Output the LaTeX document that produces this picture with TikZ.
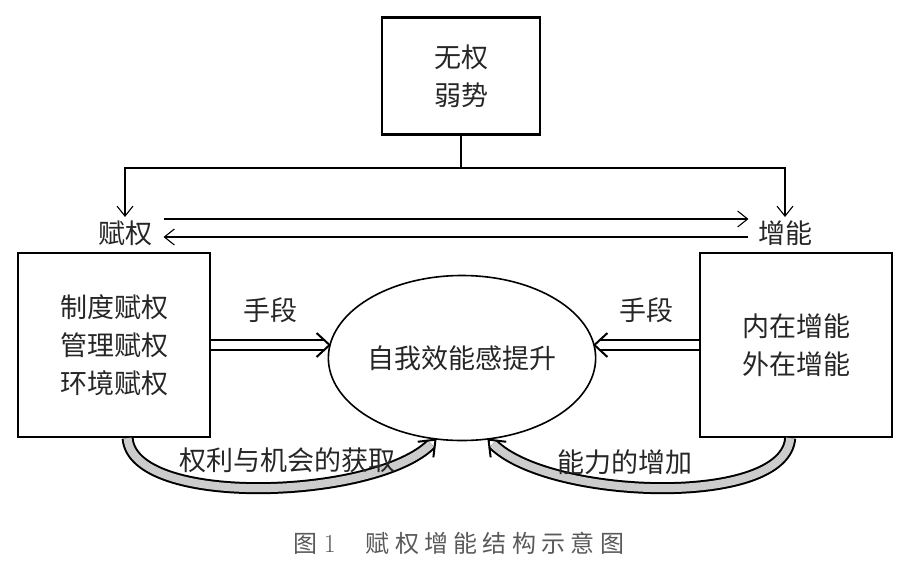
\documentclass[tikz,border=0pt]{standalone}
\usepackage{fontspec}
\usepackage{xcolor}
\newfontfamily\cjk{Noto Sans CJK SC}
\newfontfamily\cjkcap[LetterSpace=22]{Noto Sans CJK SC}
\usetikzlibrary{shapes,arrows,positioning,calc,arrows.meta}

\tikzset{
  box/.style={draw, line width=2.2pt, align=center, inner sep=0pt},
  txt/.style={font=\cjk\fontsize{27}{38}\selectfont, text=black!85, align=center},
  thinarrow/.style={line width=1.1pt, -{Straight Barb[length=10pt,width=16pt]}},
  hollow/.style={double, double distance=8.5pt, line width=2pt, shorten >=6pt},
  bent/.style={double, double distance=8pt, line width=2pt, double=gray!40, shorten >=6pt},
  barb/.style={line width=2pt, line join=miter},
}

\begin{document}
\begin{tikzpicture}[x=1pt,y=-1pt]
    \useasboundingbox (0,0) rectangle (912,571);

    % Top Box
    \node[box, txt, minimum width=158pt, minimum height=117pt] (wq) at (461,76) {无权\\弱势};

    % Branches
    \node[txt] (fq) at (125,233) {赋权};
    \node[txt] (zn) at (785,233) {增能};
    \coordinate (split) at (461,168);
    \draw[line width=1.1pt] (wq.south) -- (split);
    \draw[thinarrow] (split) -| (fq.north);
    \draw[thinarrow] (split) -| (zn.north);
    \draw[thinarrow] ([xshift=8pt,yshift=14pt]fq.east) -- ([xshift=-6pt,yshift=14pt]zn.west);
    \draw[thinarrow] ([xshift=-6pt,yshift=-4pt]zn.west) -- ([xshift=8pt,yshift=-4pt]fq.east);

    % Ellipse and Boxes
    \node[draw, ellipse, line width=1.6pt, minimum width=266pt, minimum height=165pt, inner sep=0pt, txt] (ell) at (462,358) {自我效能感提升};
    \node[box, txt, minimum width=192pt, minimum height=184pt] (lbox) at (114,345) {制度赋权\\管理赋权\\环境赋权};
    \node[box, txt, minimum width=192pt, minimum height=184pt] (rbox) at (796,345) {内在增能\\外在增能};

    % Means
    \coordinate (ltip) at ($(lbox.east -| ell.west)+(2,0)$);
    \coordinate (rtip) at ($(rbox.west -| ell.east)+(-2,0)$);
    \draw[hollow] (lbox.east) -- (ltip) node[midway, above=18pt, txt] (sd1) {手段};
    \draw[hollow] (rbox.west) -- (rtip) node[midway, above=18pt, txt] (sd2) {手段};
    \draw[barb] ([shift={(-13,-12)}]ltip) -- (ltip) -- ([shift={(-13,12)}]ltip);
    \draw[barb] ([shift={(13,-12)}]rtip) -- (rtip) -- ([shift={(13,12)}]rtip);

    % Feedback
    \coordinate (lfoot) at ($(lbox.south west)!0.57!(lbox.south east)$);
    \coordinate (rfoot) at ($(rbox.south west)!0.47!(rbox.south east)$);
    \draw[bent] (lfoot) .. controls +(5,70) and +(-60,60) .. (ell.252);
    \draw[bent] (rfoot) .. controls +(-5,70) and +(60,60) .. (ell.288);
    \draw[barb] ([shift={(-2.1,17.7)}]ell.252) -- (ell.252) -- ([shift={(-17.7,2.1)}]ell.252);
    \draw[barb] ([shift={(2.1,17.7)}]ell.288) -- (ell.288) -- ([shift={(17.7,2.1)}]ell.288);
    \node[txt] (hq) at (287,460) {权利与机会的获取};
    \node[txt] (nl) at (625,462) {能力的增加};

    % Caption
    \node[font=\cjkcap\fontsize{24}{28}\selectfont, text=black!65] (cap) at (459,543) {图\hspace{6pt}{\rmfamily\fontsize{26}{28}\selectfont 1}\hspace{30pt}赋权增能结构示意图};
\end{tikzpicture}
\end{document}
